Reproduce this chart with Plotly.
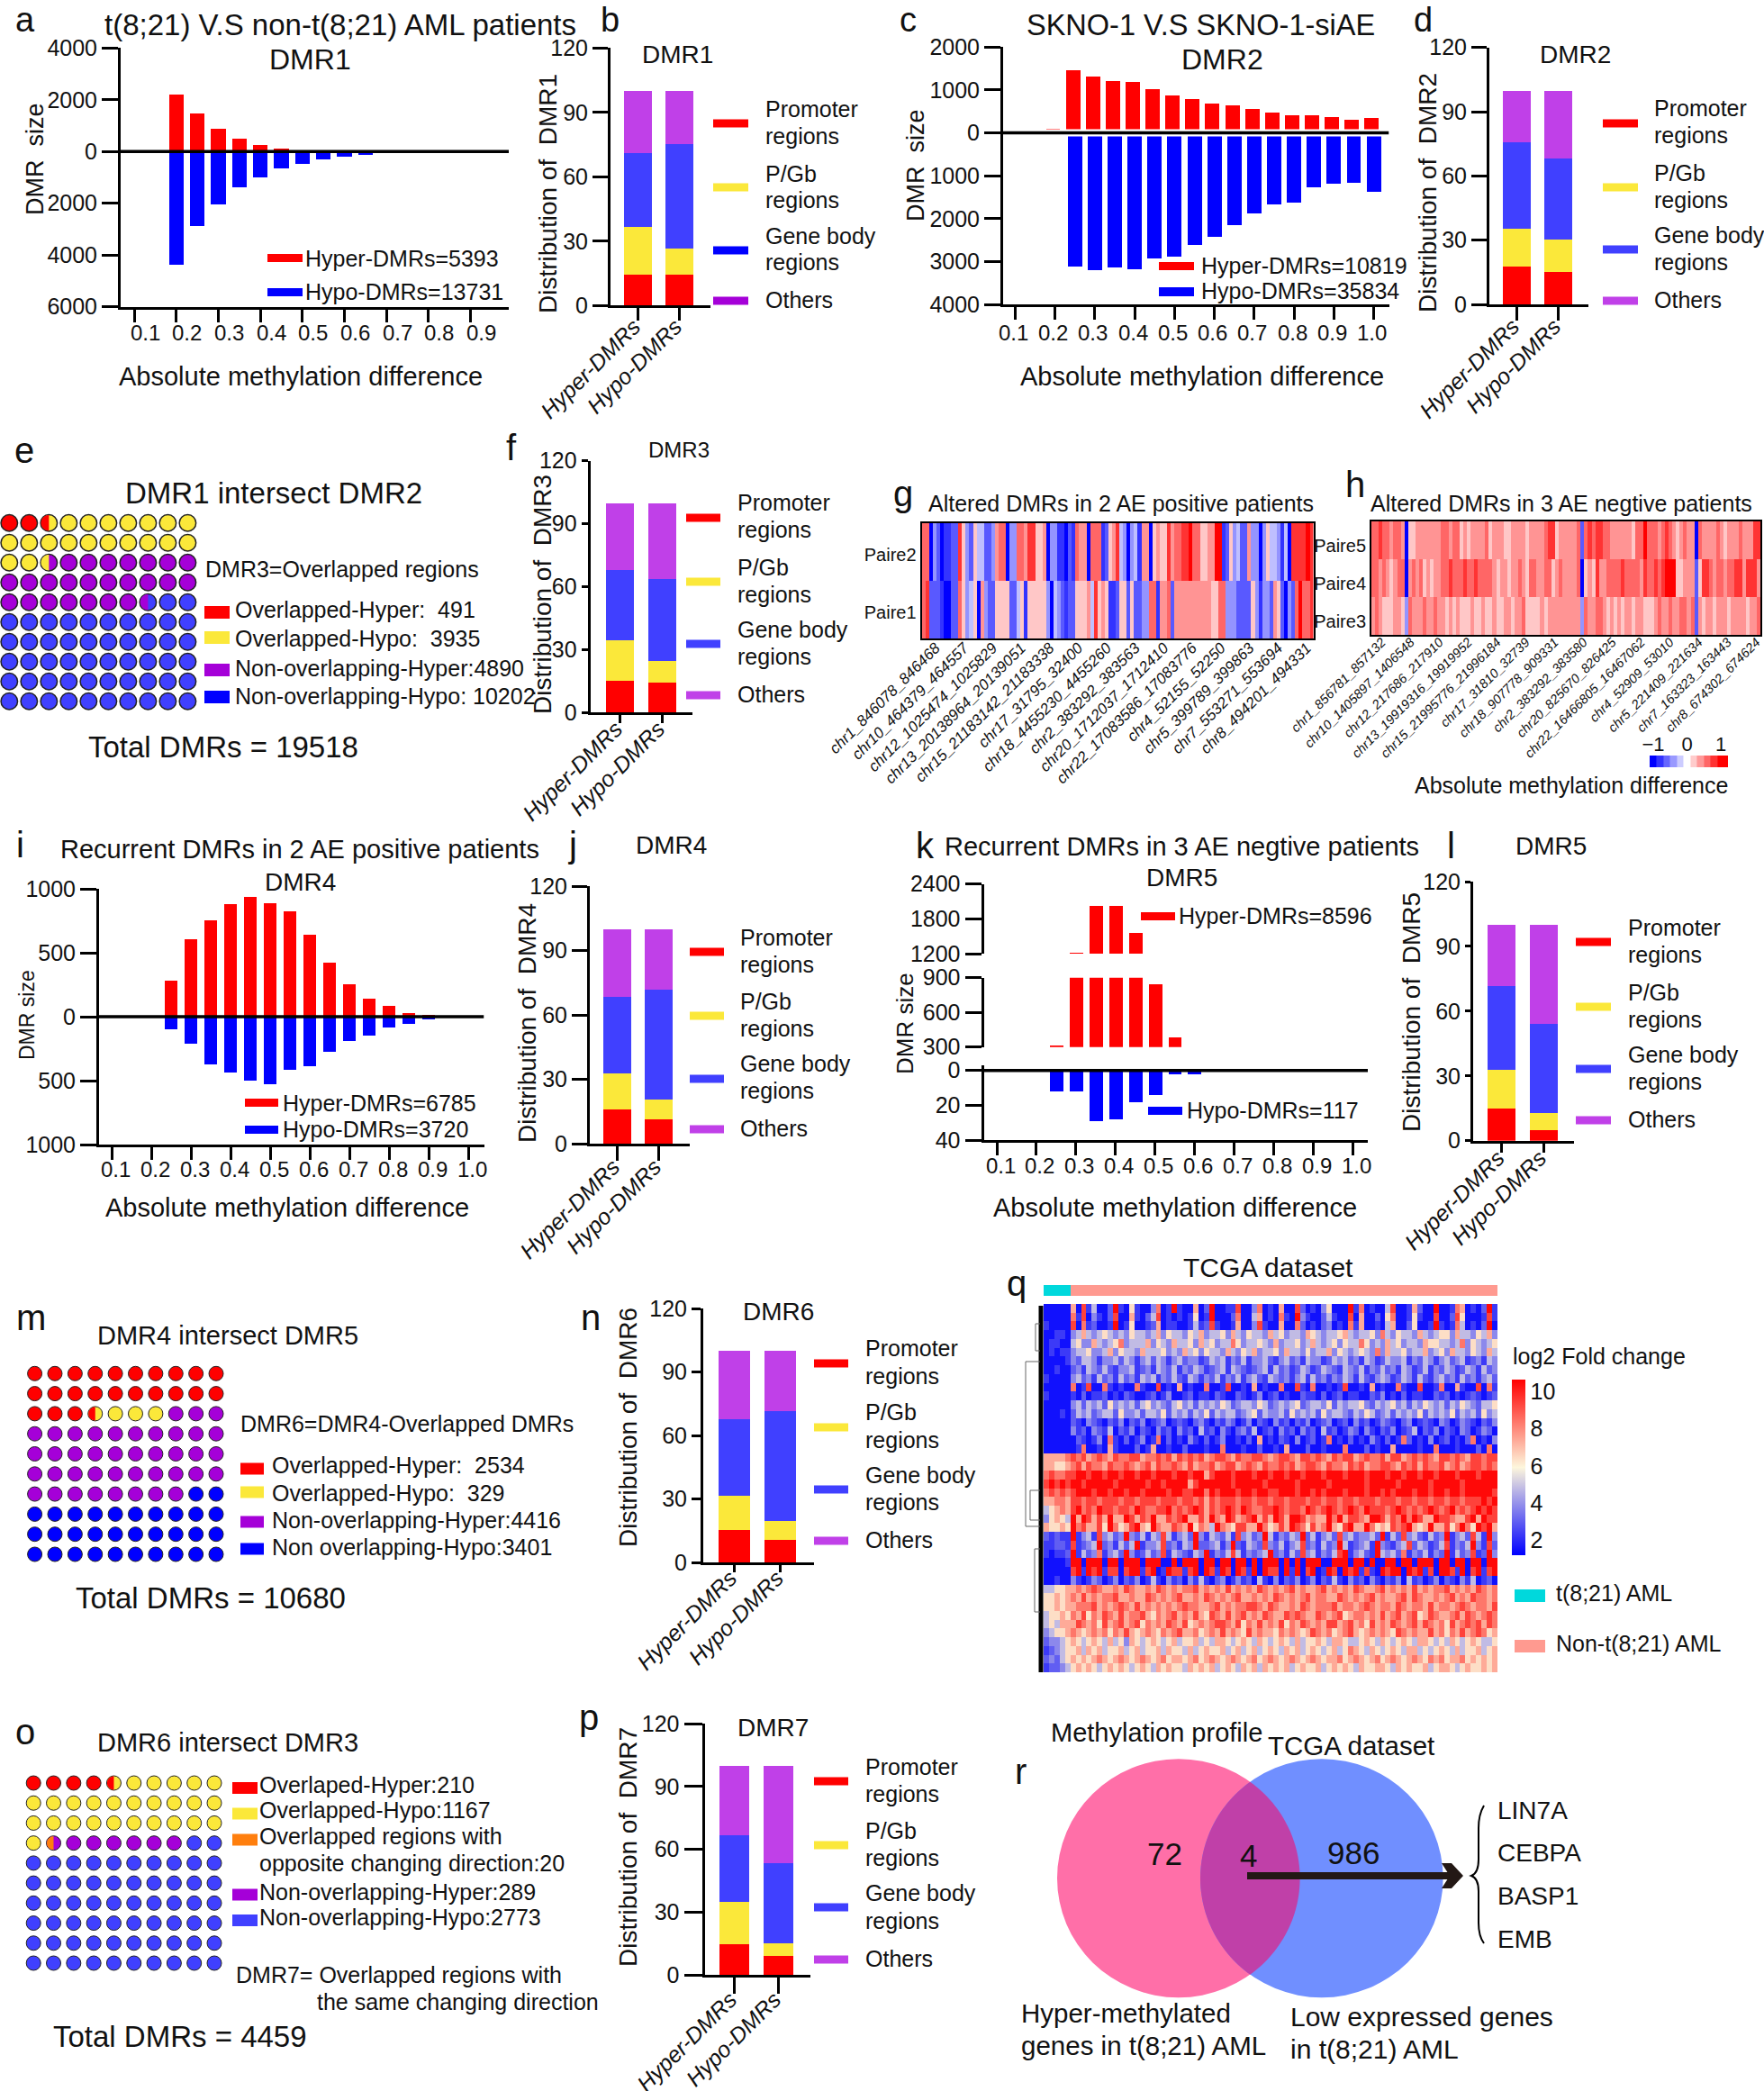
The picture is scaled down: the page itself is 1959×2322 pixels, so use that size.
import math
import numpy as np
import plotly.graph_objects as go

W, H = 1959, 2322
FONT = "Liberation Sans"
INK = "#111111"
RED = "#ff0000"
BLUE = "#0000ff"
SOFT_BLUE = "#4040ff"
YELLOW = "#fbe83a"
PURPLE = "#a500d8"
SOFT_PURPLE = "#c040e8"
ORANGE = "#ff7f0e"

# panel a
a_hyper_x = [0.2, 0.25, 0.3, 0.35, 0.4, 0.45]
a_hyper = [2190, 1450, 880, 500, 240, 100]
a_hypo_x = [0.2, 0.25, 0.3, 0.35, 0.4, 0.45, 0.5, 0.55, 0.6, 0.65, 0.7]
a_hypo = [4370, 2890, 2050, 1400, 1000, 650, 490, 310, 200, 130, 70]
# panel c
c_hyper_x = [0.195, 0.245, 0.295, 0.345, 0.395, 0.445, 0.495, 0.545, 0.595, 0.645, 0.695, 0.745, 0.795, 0.845, 0.895, 0.945, 0.995]
c_hyper = [98, 1457, 1302, 1197, 1176, 1008, 875, 784, 679, 637, 546, 476, 413, 406, 364, 301, 343]
c_hypo_x = [0.25, 0.3, 0.35, 0.4, 0.45, 0.5, 0.55, 0.6, 0.65, 0.7, 0.75, 0.8, 0.85, 0.9, 0.95, 1.0]
c_hypo = [3123, 3200, 3137, 3186, 2927, 2885, 2619, 2437, 2157, 1877, 1667, 1625, 1282, 1197, 1176, 1387]
# panel i
i_x = [0.25, 0.3, 0.35, 0.4, 0.45, 0.5, 0.55, 0.6, 0.65, 0.7, 0.75, 0.8, 0.85, 0.9]
i_hyper = [279, 606, 751, 883, 934, 890, 824, 641, 420, 256, 141, 82, 30, 16]
i_hypo = [96, 209, 373, 437, 502, 530, 418, 390, 277, 190, 148, 85, 59, 23]
# panel k
k_hyper_x = [0.25, 0.3, 0.35, 0.4, 0.45, 0.5, 0.55]
k_hyper = [315, 1226, 2030, 2035, 1555, 843, 383]
k_hypo_x = [0.25, 0.3, 0.35, 0.4, 0.45, 0.5, 0.55, 0.6]
k_hypo = [12.2, 12.2, 29, 28, 18.4, 14, 2.4, 2.4]

diff_ticks_a = [0.1, 0.2, 0.3, 0.4, 0.5, 0.6, 0.7, 0.8, 0.9]
diff_ticks = [0.1, 0.2, 0.3, 0.4, 0.5, 0.6, 0.7, 0.8, 0.9, 1.0]

# stacked distributions, [Hyper-DMRs, Hypo-DMRs]
dmr_names = ["Hyper-DMRs", "Hypo-DMRs"]
b_promoter, b_pgb, b_gene, b_others = [14.4, 14.1], [22.1, 12.3], [34.5, 48.8], [29.0, 24.8]
d_promoter, d_pgb, d_gene, d_others = [18.0, 15.3], [17.6, 15.3], [40.4, 37.8], [24.0, 31.6]
f_promoter, f_pgb, f_gene, f_others = [15.0, 14.3], [19.4, 10.5], [33.6, 39.1], [32.0, 36.1]
j_promoter, j_pgb, j_gene, j_others = [16.0, 11.3], [17.0, 9.4], [35.6, 50.9], [31.4, 28.4]
l_promoter, l_pgb, l_gene, l_others = [15.0, 5.0], [18.0, 7.8], [38.7, 41.5], [28.3, 45.7]
n_promoter, n_pgb, n_gene, n_others = [15.5, 10.6], [16.2, 9.1], [36.1, 52.0], [32.2, 28.3]
p_promoter, p_pgb, p_gene, p_others = [14.6, 8.9], [20.1, 6.1], [31.8, 38.3], [33.5, 46.7]
region_labels = ["Promoter", "regions", "P/Gb", "regions", "Gene body", "regions", "Others"]

# waffles: runs of dots, "A/B" is a dot split in two
e_runs = [("R", 2), ("R/Y", 1), ("Y", 19), ("Y/P", 1), ("P", 24), ("P/B", 1), ("B", 52)]
m_runs = [("R", 23), ("R/Y", 1), ("Y", 3), ("P", 41), ("B", 32)]
o_runs = [("R", 4), ("R/Y", 1), ("Y", 26), ("O/P", 1), ("P", 6), ("B", 62)]

# heatmaps g and h, one digit per column: 0-4 blue side, 5-9 red side
heat_levels = [-1, -0.8, -0.65, -0.42, -0.25, 0.22, 0.42, 0.6, 0.8, 1]
g_paire2 = ("7703201122" "8532544223" "6770337768" "8556033110" "2176607771" "2568430341"
            "6605655867" "7889775566" "9912534226" "3303544314" "0888898")
g_paire1 = ("7822210022" "7534506322" "5555224515" "5555304321" "2255564856" "5112552522"
            "3377166726" "6666666665" "5773332222" "5313326520" "3279778")
h_paire5 = ("778776776" "0"
            "55" "6666666" "77677" "56566" "667" "566655" "6666" "56666" "788" "56" "66667" "2"
            "78788" "776" "66666" "577" "9" "777" "67" "876" "56" "766" "0"
            "7666" "676" "56" "667666" "88")
h_paire4 = ("776765677" "0"
            "6767" "565" "6677" "877787" "7877776" "5665667" "65776677" "56766667" "0"
            "565" "8" "667777" "8" "77776" "8778" "78" "999" "556" "66" "2"
            "588" "7677677" "88" "6888" "6")
h_paire3 = ("676555665" "3"
            "76667667665656" "5556556556556656" "67555565666666666" "3"
            "766776" "5656566" "5665556" "7667667767" "2"
            "65665666566665667")
g_names = ["chr1_846078_846468", "chr10_464379_464557", "chr12_1025474_1025829", "chr13_20138964_20139051",
           "chr15_21183142_21183338", "chr17_31795_32400", "chr18_4455230_4455260", "chr2_383292_383563",
           "chr20_1712037_1712410", "chr22_17083586_17083776", "chr4_52155_52250", "chr5_399789_399863",
           "chr7_553271_553694", "chr8_494201_494331"]
h_names = ["chr1_856781_857132", "chr10_1405897_1406548", "chr12_217686_217910", "chr13_19919316_19919952",
           "chr15_21995776_21996184", "chr17_31810_32739", "chr18_907778_909331", "chr2_383292_383580",
           "chr20_825670_826425", "chr22_16466805_16467062", "chr4_52909_53010", "chr5_221409_221634",
           "chr7_163323_163443", "chr8_674302_674624"]
methylation_scale = [-1.1, -1, -0.8, -0.6, -0.4, -0.2, 0, 0.2, 0.4, 0.6, 0.8, 1, 1.2]

# heatmap q, coarse reading of the bands, top row first
q_levels = [1.5, 2.3, 3.0, 3.8, 4.8, 6.4, 7.4, 8.4, 9.4, 10.5]
q_rows = [
    "00000 60814 00291 05100 37019 10060 29001 18003 70106 00820 10350 00917 01004 80016 20090 01760 10291",
    "00000 71803 10280 06102 48010 10150 19000 27004 60107 10931 00241 00806 00205 70015 10080 02850 00181",
    "10000 80712 00190 15001 26011 00141 28100 16003 81006 00720 10230 10716 00104 60025 00191 01740 10290",
    "00110 34643 45434 35443 46354 43546 34453 64354 43645 34436 54344 56434 45374 35443 64345 53644 35463",
    "01100 45336 43457 34446 35436 44536 45344 75344 54363 44534 64345 35447 53436 45344 36554 43473 54345",
    "01011 34453 34635 44364 44534 36453 54436 43546 34453 64435 34463 54345 43736 44534 46345 36443 54364",
    "00001 32443 13342 43134 24313 42331 24341 32413 34213 42314 33124 34231 43124 33413 24313 42341 23143",
    "00100 23143 24213 34123 14324 13243 12341 43212 34142 31243 12432 14324 13242 31431 24132 43124 31423",
    "10000 34231 42314 23143 41324 21431 32413 24134 21432 31341 42313 24314 21343 12431 42134 23142 31342",
    "00000 70180 07101 00710 08010 60100 70018 00106 01007 00810 70010 18001 06010 07100 80017 00610 08071",
    "10000 10201 12010 21001 20130 01201 10210 02101 30120 10021 10201 20110 02130 10201 10021 20101 21012",
    "00000 34243 42534 34245 34324 53424 34354 23443 54234 34523 44352 43445 32434 53424 35434 24354 32445",
    "00010 24342 34425 33424 43524 34243 52434 42345 24334 25343 42534 43243 54234 24343 52434 35243 42534",
    "00000 21032 10213 02130 12301 21023 10213 20130 21031 20213 01230 12031 20132 10230 12103 20132 10213",
    "00000 31203 21402 13021 03120 31204 12031 02314 01203 12031 20412 01320 31021 30124 02130 21032 01320",
    "00000 02101 30710 20130 17020 10310 20130 01020 60102 10301 20170 10201 03102 01720 10301 20102 70103",
    "00000 01700 10610 00201 60010 02000 10070 00100 20010 60002 00100 07000 20100 60000 10070 00100 02070",
    "66667 87867 87687 78867 78786 87878 67887 68778 87678 87688 78768 78867 87786 88678 78768 87876 88788",
    "66556 78687 76877 87678 68778 76867 78678 86787 68778 78678 87687 76878 67788 76878 68778 67867 88787",
    "78778 89989 98998 99899 89998 99899 68999 89998 99899 89989 99899 98999 89998 99899 89989 99899 98999",
    "89898 99899 99989 99998 99899 99689 99999 89999 98999 99899 99989 99999 89999 98999 99899 99989 99999",
    "78787 89998 99899 89989 99989 98899 79899 98998 99889 99899 89899 98999 89989 89998 99899 89989 99998",
    "66776 88788 78887 88788 87888 78878 68788 87887 88788 78887 88788 78878 88788 87887 88788 78878 88989",
    "45676 89787 98878 87987 78897 87898 68789 87987 78898 78879 87898 78987 98887 89878 78987 89787 89898",
    "35654 96986 86966 98687 96687 89668 69769 86789 68698 69986 76697 96887 69986 87979 86698 87668 96988",
    "65565 97866 85975 68965 97668 76957 64976 58866 97568 69875 86796 58966 97565 87896 56966 85797 59896",
    "21211 91341 83423 93241 43841 34293 14324 18342 39413 24392 41342 83423 34291 42834 21423 91342 84193",
    "11221 81234 92314 24913 34823 14392 23413 92143 28324 13482 31423 94123 41932 13482 43124 81324 93182",
    "10112 91423 71342 93124 23814 32143 91324 84132 34923 14283 41324 89134 21943 42713 24132 91423 81293",
    "00001 99099 90990 99909 99009 09990 99099 09909 09990 90909 99009 99099 09009 90990 99909 90990 99099",
    "00000 89198 91880 89918 90198 81890 98198 09819 09880 91908 90198 09891 81098 99098 91809 98190 89189",
    "00100 31013 20130 21301 41031 20314 10230 13120 41030 21301 30214 10312 03102 13041 20130 21031 40120",
    "44556 67678 76676 87667 68767 67786 76768 67676 87676 78676 67867 67687 66786 76768 67677 86767 68767",
    "55656 76867 67786 67668 76767 86676 87676 78667 67687 67678 67766 87676 78676 67868 76676 78676 87767",
    "55656 67778 67678 76867 67676 78776 67867 67788 76876 67687 67778 67767 87677 68767 76867 76787 67768",
    "45565 76857 68768 67786 57678 67686 58768 67867 68766 87876 68767 85677 67686 78678 56876 67868 76787",
    "45466 68767 58678 67857 67687 68567 67887 68576 86768 57687 67688 67867 58676 87678 68767 58678 78687",
    "34556 76567 67576 86567 65767 86675 67686 76586 76657 67656 87675 67865 67676 58767 66867 57686 78756",
    "23345 65456 54645 36545 65456 45564 54665 45654 65456 54645 56546 65445 65465 45654 66545 46545 65445",
    "12345 56465 64556 45645 56465 54645 65564 56456 45654 65645 65456 45765 46545 65466 45456 54645 56456",
    "23245 65656 76567 65676 56756 65675 67656 76567 56765 67656 76566 75676 56756 76567 65767 56675 65656",
    "12234 56565 45656 54565 46565 54656 56456 54656 46565 64565 56456 56546 55665 46565 56456 65456 55656",
]
q_t821_columns = 5
q_other_columns = 80
q_ticks = [2, 4, 6, 8, 10]

# venn r
venn_left_only = "72"
venn_both = "4"
venn_right_only = "986"
venn_genes = ["LIN7A", "CEBPA", "BASP1", "EMB"]

fig = go.Figure()
annotations = []
shapes = []
axis_no = [1]


def fx(p):
    return p / W


def fy(p):
    return 1 - p / H


def txt(x, y, s, size=25, anchor="left", angle=0, style="normal"):
    annotations.append(dict(x=fx(x), y=fy(y), xref="paper", yref="paper", text=s, showarrow=False,
                            xanchor=anchor, yanchor="middle", textangle=angle, borderpad=0, borderwidth=0,
                            font=dict(family=FONT, size=size, color=INK, style=style)))


def rect(x0, x1, y0, y1, color):
    shapes.append(dict(type="rect", xref="paper", yref="paper", x0=fx(x0), x1=fx(x1), y0=fy(y0), y1=fy(y1),
                       fillcolor=color, line=dict(width=0)))


def poly(points, color, line_width=0, line_color="black", closed=True):
    path = "M " + " L ".join(f"{fx(a):.5f},{fy(b):.5f}" for a, b in points)
    shapes.append(dict(type="path", xref="paper", yref="paper", path=path + (" Z" if closed else ""),
                       fillcolor=color if closed else "rgba(0,0,0,0)", line=dict(width=line_width, color=line_color)))


def add_axes(x0, x1, top, bottom, xopts, yopts):
    axis_no[0] += 1
    n = axis_no[0]
    fig.update_layout(**{
        f"xaxis{n}": dict(domain=[fx(x0), fx(x1)], anchor=f"y{n}", **xopts),
        f"yaxis{n}": dict(domain=[fy(bottom), fy(top)], anchor=f"x{n}", **yopts),
    })
    return f"x{n}", f"y{n}"


def line_axis(**kw):
    base = dict(showgrid=False, zeroline=False, showline=True, linecolor="black", linewidth=3,
                ticks="outside", tickcolor="black", tickwidth=3, tickfont=dict(family=FONT, size=25, color=INK))
    base.update(kw)
    return base


hidden = dict(visible=False, showgrid=False, zeroline=False)


def diff_axis(box, ref0, ref1, ticks, **kw):
    per = (ref1[1] - ref0[1]) / (ref1[0] - ref0[0])
    rng = [ref0[0] + (box[0] - ref0[1]) / per, ref0[0] + (box[1] - ref0[1]) / per]
    return line_axis(range=rng, tickvals=ticks, showticklabels=False, ticklen=14, **kw)


def zero_line(xa, ya, rng, gap=0):
    if gap:
        fig.add_trace(go.Scatter(x=rng, y=[0, 0], mode="lines", line=dict(color="white", width=gap),
                                 xaxis=xa, yaxis=ya, cliponaxis=False, hoverinfo="skip"))
    fig.add_trace(go.Scatter(x=rng, y=[0, 0], mode="lines", line=dict(color="black", width=3.5),
                             xaxis=xa, yaxis=ya, cliponaxis=False, hoverinfo="skip"))


def tick_labels(xa, ticks, y, shift):
    for v in ticks:
        annotations.append(dict(x=v, y=fy(y), xref=xa, yref="paper", text=f"{v:.1f}", showarrow=False, xshift=shift,
                                xanchor="center", yanchor="middle", font=dict(family=FONT, size=24, color=INK)))


def diverging(box, top, bottom, yrange, yticks, ref0, ref1, ticks, hx, hv, lx, lv, width, label_y, shift, gap=0):
    xa, ya = add_axes(box[0], box[1], top, bottom, diff_axis(box, ref0, ref1, ticks),
                      line_axis(range=yrange, tickvals=yticks, ticktext=[str(abs(t)) for t in yticks], ticklen=18))
    fig.add_trace(go.Bar(x=hx, y=hv, width=width, marker=dict(color=RED, line=dict(width=0)), xaxis=xa, yaxis=ya))
    fig.add_trace(go.Bar(x=lx, y=[-v for v in lv], width=width, marker=dict(color=BLUE, line=dict(width=0)),
                         xaxis=xa, yaxis=ya))
    zero_line(xa, ya, fig.layout[xa.replace("x", "xaxis")].range, gap)
    tick_labels(xa, ticks, label_y, shift)


def stacked(ax, right, top, bottom, c1, c2, width, promoter, pgb, gene, others, title, title_xy, title_size,
            ylabel, ylabel_xy, swatch_x, swatch_ys, text_x, text_ys, strong=False, ylen=17, xlen=14):
    per = c2 - c1
    xa, ya = add_axes(ax, right, top, bottom,
                      line_axis(range=[(ax - c1) / per, (right - c1) / per], tickvals=[0, 1], ticktext=dmr_names,
                                tickangle=-45, ticklen=xlen, ticklabelstandoff=-18, ticklabelshift=-4,
                                tickfont=dict(family=FONT, size=25, color=INK, style="italic")),
                      line_axis(range=[0, 120], tickvals=[0, 30, 60, 90, 120], ticklen=ylen))
    for values, color in zip([promoter, pgb, gene, others], [RED, YELLOW, SOFT_BLUE, SOFT_PURPLE]):
        fig.add_trace(go.Bar(x=[0, 1], y=values, width=width / per, marker=dict(color=color, line=dict(width=0)),
                             xaxis=xa, yaxis=ya))
    txt(title_xy[0], title_xy[1], title, title_size, "center")
    txt(ylabel_xy[0], ylabel_xy[1], ylabel, 28, "center", -90)
    swatches = [RED, YELLOW, BLUE if strong else SOFT_BLUE, PURPLE if strong else SOFT_PURPLE]
    for sy, color in zip(swatch_ys, swatches):
        rect(swatch_x[0], swatch_x[1], sy - 4.5, sy + 4.5, color)
    for ty, label in zip(text_ys, region_labels):
        txt(text_x, ty, label, 25)


def waffle(runs, first_x, last_x, first_y, last_y, size, blue, line_width=1.5):
    colors = dict(R=RED, Y=YELLOW, P=PURPLE, O=ORANGE, B=blue)
    dots = [name for name, count in runs for _ in range(count)]
    r = 11
    dx = (last_x - first_x) / 9
    dy = (last_y - first_y) / 9
    xa, ya = add_axes(max(first_x - r, 0), last_x + r, first_y - r, last_y + r,
                      dict(hidden, range=[-min(r, first_x) / dx, 9 + r / dx]),
                      dict(hidden, range=[9 + r / dy, -r / dy]))
    cols = [i % 10 for i in range(100)]
    rows = [i // 10 for i in range(100)]
    fig.add_trace(go.Scatter(x=cols, y=rows, mode="markers", xaxis=xa, yaxis=ya, cliponaxis=False,
                             marker=dict(size=size, color=[colors[d[-1]] for d in dots],
                                         line=dict(width=line_width, color="#222222"))))
    for i, d in enumerate(dots):
        if "/" not in d:
            continue
        rad = (size / 2 - 0.5)
        pts = []
        for k in range(19):
            t = math.pi / 2 + math.pi * k / 18
            pts.append((cols[i] + rad * math.cos(t) / dx, rows[i] + rad * math.sin(t) / dy))
        shapes.append(dict(type="path", xref=xa, yref=ya, fillcolor=colors[d[0]], line=dict(width=0),
                           path="M " + " L ".join(f"{a:.4f},{b:.4f}" for a, b in pts) + " Z"))


def digits(row, levels=None):
    vals = [int(c) for c in row.replace(" ", "")]
    return [levels[v] for v in vals] if levels else vals


def methylation_heatmap(x0, x1, top, bottom, rows, row_names, row_ticks, names, first_end, step, name_size):
    # rows are given top first
    z = [digits(r, heat_levels) for r in rows[::-1]]
    n = len(z[0])
    per = (x1 - x0) / n
    tick_cols = [(first_end + k * step - x0) / per - 0.5 for k in range(len(names))]
    xa, ya = add_axes(x0, x1, top, bottom,
                      dict(range=[-0.5, n - 0.5], showgrid=False, zeroline=False, showline=True, mirror=True,
                           linecolor="black", linewidth=2, ticks="", tickvals=tick_cols, ticktext=names,
                           tickangle=-45, ticklabeloverflow="allow", ticklabelstandoff=-8, ticklabelshift=-4,
                           tickfont=dict(family=FONT, size=name_size, color=INK, style="italic")),
                      dict(range=[-0.5, len(z) - 0.5], showgrid=False, zeroline=False, showline=True, mirror=True,
                           linecolor="black", linewidth=2, ticks="", tickvals=row_ticks, ticktext=row_names[::-1],
                           tickfont=dict(family=FONT, size=20, color=INK)))
    fig.add_trace(go.Heatmap(z=z, x=list(range(n)), y=list(range(len(z))), zmin=-1, zmax=1, showscale=False,
                             colorscale=[[0, BLUE], [0.5, "#ffffff"], [1, RED]], xaxis=xa, yaxis=ya))


# a
diverging((134, 565), 53.3, 340.7, [-6000, 4000], [-6000, -4000, -2000, 0, 2000, 4000], (0.1, 149), (0.9, 522.5),
          diff_ticks_a, a_hyper_x, a_hyper, a_hypo_x, a_hypo, 0.035, 369, 12)
txt(28, 22, "a", 38, "center")
txt(378, 27, "t(8;21) V.S non-t(8;21) AML patients", 33, "center")
txt(344, 66, "DMR1", 32, "center")
txt(39, 177, "DMR  size", 27, "center", -90)
txt(334, 418, "Absolute methylation difference", 29, "center")
rect(297, 336, 282, 291, RED)
rect(297, 336, 320, 329, BLUE)
txt(339, 287, "Hyper-DMRs=5393")
txt(339, 324, "Hypo-DMRs=13731")

# b
stacked(678, 789, 53.3, 339.3, 708, 754, 31, b_promoter, b_pgb, b_gene, b_others, "DMR1", (752, 61), 28,
        "Distribution of  DMR1", (609, 215), (792, 831), [137, 208, 278, 334], 850,
        [121, 151, 193, 222, 262, 291, 333], strong=True)
txt(677, 22, "b", 38, "center")

# c
diverging((1114, 1542.5), 52.3, 338, [-4000, 2000], [-4000, -3000, -2000, -1000, 0, 1000, 2000], (0.1, 1127.5),
          (1.0, 1525.6), diff_ticks, c_hyper_x, c_hyper, c_hypo_x, c_hypo, 0.036, 369, -2, gap=8)
txt(1008, 22, "c", 38, "center")
txt(1333, 28, "SKNO-1 V.S SKNO-1-siAE", 32.5, "center")
txt(1357, 66, "DMR2", 32, "center")
txt(1017, 184, "DMR  size", 27, "center", -90)
txt(1335, 418, "Absolute methylation difference", 29, "center")
rect(1287, 1326, 291, 300, RED)
rect(1287, 1326, 319, 329, BLUE)
txt(1334, 295, "Hyper-DMRs=10819")
txt(1334, 323, "Hypo-DMRs=35834")

# d
stacked(1654, 1764, 52.7, 338, 1684, 1730, 31, d_promoter, d_pgb, d_gene, d_others, "DMR2", (1749, 61), 28,
        "Distribution of  DMR2", (1586, 214), (1780, 1819), [137, 208, 277, 334], 1837,
        [120, 150, 192, 222, 261, 291, 333], xlen=15)
txt(1580, 22, "d", 38, "center")

# e
waffle(e_runs, 10.3, 208.4, 580.7, 778.7, 18.5, SOFT_BLUE)
txt(27, 500, "e", 40, "center")
txt(304, 547, "DMR1 intersect DMR2", 33, "center")
txt(228, 632, "DMR3=Overlapped regions")
for sy, color in zip([680, 708, 744, 774], [RED, YELLOW, PURPLE, BLUE]):
    rect(227, 255, sy - 7, sy + 7, color)
txt(261, 677, "Overlapped-Hyper:  491")
txt(261, 709, "Overlapped-Hypo:  3935")
txt(261, 742, "Non-overlapping-Hyper:4890")
txt(261, 773, "Non-overlapping-Hypo: 10202")
txt(248, 830, "Total DMRs = 19518", 33, "center")

# f
stacked(655.6, 769, 511.7, 791, 688, 735, 31.6, f_promoter, f_pgb, f_gene, f_others, "DMR3", (754, 499), 24,
        "Distribution of  DMR3", (602, 660), (762, 800), [575, 646, 715, 772], 819,
        [558, 588, 630, 660, 699, 729, 771], ylen=7, xlen=9)
txt(568, 497, "f", 40, "center")

# g
methylation_heatmap(1023.6, 1458.8, 581, 709, [g_paire2, g_paire1], ["Paire2", "Paire1"], [-0.04, 0.96], g_names,
                    1043, 31.7, 17)
txt(1003, 548, "g", 40, "center")
txt(1245, 559, "Altered DMRs in 2 AE positive patients", 25, "center")

# h
methylation_heatmap(1523, 1955, 579, 705, [h_paire5, h_paire4, h_paire3], ["Paire5", "Paire4", "Paire3"],
                    [-0.14, 0.86, 1.86], h_names, 1538.5, 32, 14.5)
txt(1505, 538, "h", 40, "center")
txt(1734, 559, "Altered DMRs in 3 AE negtive patients", 25, "center")
txt(1745, 872, "Absolute methylation difference", 25, "center")
scale_x, scale_y = add_axes(1832, 1919, 839, 852,
                            dict(range=[-1.107, 1.213], side="top", showgrid=False, zeroline=False, ticks="",
                                 tickvals=[-1, 0, 1], tickfont=dict(family=FONT, size=22, color=INK)),
                            dict(hidden, range=[-0.5, 0.5]))
fig.add_trace(go.Heatmap(z=[methylation_scale], x=methylation_scale, y=[0], zmin=-1, zmax=1, showscale=False,
                         colorscale=[[0, BLUE], [0.5, "#ffffff"], [1, RED]], xaxis=scale_x, yaxis=scale_y))

# i
diverging((110, 537.5), 987, 1271, [-1000, 1000], [-1000, -500, 0, 500, 1000], (0.1, 124), (1.0, 520), diff_ticks,
          i_x, i_hyper, i_x, i_hypo, 0.034, 1298, 4)
txt(22, 938, "i", 40, "center")
txt(333, 943, "Recurrent DMRs in 2 AE positive patients", 29, "center")
txt(333, 979, "DMR4", 28, "center")
txt(30, 1127, "DMR size", 23, "center", -90)
txt(319, 1341, "Absolute methylation difference", 29, "center")
rect(272, 309, 1220, 1229, RED)
rect(272, 309, 1250, 1259, BLUE)
txt(314, 1225, "Hyper-DMRs=6785")
txt(314, 1254, "Hypo-DMRs=3720")

# j
stacked(655, 765.6, 984, 1270.3, 685, 731, 31, j_promoter, j_pgb, j_gene, j_others, "DMR4", (745, 938), 28,
        "Distribution of  DMR4", (586, 1136), (766, 804), [1057, 1128, 1198, 1254], 822,
        [1041, 1071, 1112, 1142, 1181, 1211, 1253], xlen=16)
txt(636, 938, "j", 40, "center")

# k, broken y axis
k_box = (1092.5, 1519)
k_x = diff_axis(k_box, (0.1, 1107), (1.0, 1502), diff_ticks)
k_xb, k_yb = add_axes(k_box[0], k_box[1], 1182.9, 1266, k_x,
                      line_axis(range=[-40, 3], tickvals=[-40, -20, 0], ticktext=["40", "20", "0"], ticklen=18))
k_xm, k_ym = add_axes(k_box[0], k_box[1], 1085.7, 1162.7, dict(hidden, range=k_x["range"]),
                      line_axis(range=[300, 900], tickvals=[300, 600, 900], ticklen=18))
k_xt, k_yt = add_axes(k_box[0], k_box[1], 981.7, 1059, dict(hidden, range=k_x["range"]),
                      line_axis(range=[1200, 2400], tickvals=[1200, 1800, 2400], ticklen=18))
for xa, ya in [(k_xm, k_ym), (k_xt, k_yt)]:
    fig.add_trace(go.Bar(x=k_hyper_x, y=k_hyper, width=0.034, marker=dict(color=RED, line=dict(width=0)),
                         xaxis=xa, yaxis=ya))
fig.add_trace(go.Bar(x=k_hypo_x, y=[-v for v in k_hypo], width=0.034, marker=dict(color=BLUE, line=dict(width=0)),
                     xaxis=k_xb, yaxis=k_yb))
zero_line(k_xb, k_yb, k_x["range"])
tick_labels(k_xb, diff_ticks, 1294, 4)
txt(1027, 939, "k", 40, "center")
txt(1312, 940, "Recurrent DMRs in 3 AE negtive patients", 29, "center")
txt(1312, 974, "DMR5", 28, "center")
txt(1005, 1137, "DMR size", 26, "center", -90)
txt(1305, 1341, "Absolute methylation difference", 29, "center")
rect(1267, 1305, 1013, 1022, RED)
rect(1275, 1313, 1229, 1238, BLUE)
txt(1309, 1017, "Hyper-DMRs=8596")
txt(1318, 1233, "Hypo-DMRs=117")

# l
stacked(1636, 1747.5, 979, 1266.7, 1667.5, 1714, 31, l_promoter, l_pgb, l_gene, l_others, "DMR5", (1722, 939), 28,
        "Distribution of  DMR5", (1567, 1124), (1750, 1789), [1046, 1118, 1187, 1244], 1808,
        [1030, 1060, 1102, 1132, 1171, 1201, 1243], ylen=6, xlen=10)
txt(1611, 939, "l", 40, "center")

# m
waffle(m_runs, 38.6, 240, 1525.3, 1726, 16, BLUE, 1)
txt(34, 1463, "m", 40, "center")
txt(253, 1483, "DMR4 intersect DMR5", 29, "center")
txt(267, 1581, "DMR6=DMR4-Overlapped DMRs")
for sy, color in zip([1631, 1657, 1690, 1720], [RED, YELLOW, PURPLE, BLUE]):
    rect(267, 293, sy - 6.5, sy + 6.5, color)
txt(302, 1627, "Overlapped-Hyper:  2534")
txt(302, 1658, "Overlapped-Hypo:  329")
txt(302, 1688, "Non-overlapping-Hyper:4416")
txt(302, 1718, "Non overlapping-Hypo:3401")
txt(234, 1774, "Total DMRs = 10680", 33, "center")

# n
stacked(781, 904, 1453, 1735, 815, 866.7, 35, n_promoter, n_pgb, n_gene, n_others, "DMR6", (864, 1456), 28,
        "Distribution of  DMR6", (697, 1585), (904, 942), [1514, 1585, 1654, 1711], 961,
        [1497, 1528, 1568, 1599, 1638, 1668, 1710], ylen=10, xlen=8)
txt(656, 1463, "n", 40, "center")

# o
waffle(o_runs, 37.2, 238, 1980, 2180, 16, SOFT_BLUE, 1)
txt(28, 1923, "o", 40, "center")
txt(253, 1935, "DMR6 intersect DMR3", 29, "center")
for sy, color in zip([1985.5, 2014, 2043, 2104, 2132.5], [RED, YELLOW, ORANGE, PURPLE, SOFT_BLUE]):
    rect(258, 286, sy - 6.5, sy + 6.5, color)
txt(288, 1982, "Overlaped-Hyper:210")
txt(288, 2010, "Overlapped-Hypo:1167")
txt(288, 2039, "Overlapped regions with")
txt(288, 2069, "opposite changing direction:20")
txt(288, 2101, "Non-overlapping-Hyper:289")
txt(288, 2129, "Non-overlapping-Hypo:2773")
txt(262, 2193, "DMR7= Overlapped regions with")
txt(352, 2223, "the same changing direction")
txt(200, 2261, "Total DMRs = 4459", 33, "center")

# p
stacked(782.5, 900, 1914, 2193, 815, 864, 33, p_promoter, p_pgb, p_gene, p_others, "DMR7", (858, 1918), 28,
        "Distribution of  DMR7", (697, 2051), (904, 942), [1978, 2049, 2118, 2176], 961,
        [1962, 1992, 2033, 2063, 2102, 2133, 2175], ylen=20, xlen=18)
txt(654, 1907, "p", 40, "center")

# q
q_z = [digits(r, q_levels) for r in q_rows]
q_n = len(q_z[0])
q_xa, q_ya = add_axes(1159, 1663, 1448, 1857, dict(hidden, range=[-0.5, q_n - 0.5]),
                      dict(hidden, range=[len(q_z) - 0.5, -0.5]))
fig.add_trace(go.Heatmap(z=q_z, x=list(range(q_n)), y=list(range(len(q_z))), zmin=1.18, zmax=10.68,
                         colorscale=[[0, BLUE], [0.5, "#fdf6dc"], [1, RED]], xaxis=q_xa, yaxis=q_ya,
                         colorbar=dict(x=fx(1679), xanchor="left", y=fy(1531.7), yanchor="top", len=195,
                                       lenmode="pixels", thickness=15, thicknessmode="pixels", tickvals=q_ticks,
                                       ticks="", outlinewidth=0, xpad=0, ypad=0,
                                       tickfont=dict(family=FONT, size=25, color=INK))))
strip_xa, strip_ya = add_axes(1159, 1663, 1427, 1439, dict(hidden, range=[-0.5, q_n - 0.5]),
                              dict(hidden, range=[-0.5, 0.5]))
fig.add_trace(go.Heatmap(z=[[0] * q_t821_columns + [1] * q_other_columns], y=[0], showscale=False, zmin=0, zmax=1,
                         colorscale=[[0, "#00d8dc"], [0.5, "#00d8dc"], [0.5, "#ff9a90"], [1, "#ff9a90"]],
                         xaxis=strip_xa, yaxis=strip_ya))
poly([(1156, 1450), (1156, 1857)], "black", 5, "black", closed=False)
for seg in [[(1155, 1512), (1139, 1512), (1139, 1695), (1155, 1695)],
            [(1155, 1655), (1144, 1655), (1144, 1688), (1155, 1688)],
            [(1155, 1470), (1150, 1470), (1150, 1500), (1155, 1500)],
            [(1155, 1720), (1149, 1720), (1149, 1790), (1155, 1790)]]:
    poly(seg, "black", 1, "#666666", closed=False)
txt(1129, 1425, "q", 40, "center")
txt(1408, 1407, "TCGA dataset", 30, "center")
txt(1680, 1506, "log2 Fold change", 25)
rect(1682, 1716, 1765, 1779, "#00d8dc")
rect(1682, 1716, 1821, 1835, "#ff9a90")
txt(1728, 1769, "t(8;21) AML", 25)
txt(1728, 1825, "Non-t(8;21) AML", 25)

# r
cy, rx, ry = 2085.7, 134.8, 132.5
cx1, cx2 = 1308.8, 1467.8
shapes.append(dict(type="circle", xref="paper", yref="paper", x0=fx(cx1 - rx), x1=fx(cx1 + rx), y0=fy(cy - ry),
                   y1=fy(cy + ry), fillcolor="#ff6fa8", line=dict(width=0)))
shapes.append(dict(type="circle", xref="paper", yref="paper", x0=fx(cx2 - rx), x1=fx(cx2 + rx), y0=fy(cy - ry),
                   y1=fy(cy + ry), fillcolor="#708fff", line=dict(width=0)))
half = math.acos((cx2 - cx1) / 2 / rx)
lens = [(cx1 + rx * math.cos(t), cy + ry * math.sin(t)) for t in np.linspace(-half, half, 60)]
lens += [(cx2 + rx * math.cos(t), cy + ry * math.sin(t)) for t in np.linspace(math.pi - half, math.pi + half, 60)]
poly(lens, "#c040a8")
rect(1385, 1610, 2079, 2087, "#231815")
poly([(1601, 2069), (1612, 2069), (1625, 2083), (1612, 2097), (1601, 2097), (1610, 2083)], "#231815")
brace = ("M {},{} Q {},{} {},{} L {},{} Q {},{} {},{} Q {},{} {},{} L {},{} Q {},{} {},{}").format(
    *[f"{v:.5f}" for pair in [(1648, 2005), (1642, 2015), (1642, 2030), (1642, 2065), (1642, 2080), (1634, 2083),
                              (1642, 2086), (1642, 2100), (1642, 2135), (1642, 2150), (1648, 2158)]
      for v in (fx(pair[0]), fy(pair[1]))])
shapes.append(dict(type="path", xref="paper", yref="paper", path=brace, line=dict(width=2, color="black")))
txt(1133, 1967, "r", 40, "center")
txt(1293, 2058, venn_left_only, 35, "center")
txt(1386, 2060, venn_both, 35, "center")
txt(1503, 2057, venn_right_only, 35, "center")
for gy, gene in zip([2010, 2057, 2105, 2153], venn_genes):
    txt(1663, gy, gene, 28)
txt(1284, 1924, "Methylation profile", 29, "center")
txt(1500, 1938, "TCGA dataset", 29.5, "center")
txt(1134, 2235, "Hyper-methylated", 29.5)
txt(1134, 2271, "genes in t(8;21) AML", 29.5)
txt(1433, 2239, "Low expressed genes", 30)
txt(1433, 2275, "in t(8;21) AML", 30)

fig.update_layout(width=W, height=H, margin=dict(l=0, r=0, t=0, b=0, autoexpand=False), paper_bgcolor="white",
                  plot_bgcolor="rgba(0,0,0,0)", showlegend=False, barmode="relative", bargap=0,
                  font=dict(family=FONT, color=INK), annotations=annotations, shapes=shapes)
fig.write_html("out.html", config=dict(displayModeBar=False), post_script="document.body.style.margin='0';")
